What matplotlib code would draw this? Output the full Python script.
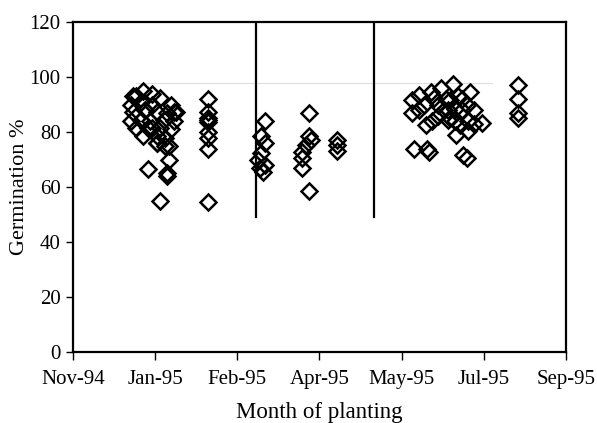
import numpy as np
import pandas as pd
import matplotlib
matplotlib.use("Agg")
import matplotlib.pyplot as plt
import matplotlib.dates as mdates

plt.rcParams['font.family'] = ['Liberation Serif', 'DejaVu Serif']
plt.rcParams['font.size'] = 15

####################################################################################
# Data: planting dates and germination %

jan_dates = ["1994-12-22", "1994-12-23", "1994-12-25", "1994-12-28", "1994-12-29",
             "1994-12-30", "1995-01-01", "1995-01-02", "1995-01-03", "1995-01-03",
             "1995-01-06", "1995-01-06", "1995-01-08", "1995-01-10", "1995-01-11",
             "1995-01-12", "1995-01-13", "1995-01-14", "1995-01-16", "1995-01-17",
             "1994-12-22", "1994-12-23", "1994-12-25", "1994-12-28", "1994-12-30",
             "1995-01-03", "1995-01-06", "1995-01-08", "1995-01-11", "1995-01-14",
             "1995-01-16", "1994-12-29", "1995-01-06", "1995-01-12", "1995-01-13",
             "1995-01-01", "1995-01-12", "1995-01-08"]
jan_germ = [90, 93, 93, 91, 95,
            88, 81.5, 84, 94, 90,
            87.3, 78.5, 92.5, 84.4, 78,
            87, 75, 90, 84, 87.3,
            84, 87.3, 81.5, 84.4, 88,
            81.5, 76, 81.5, 75, 81,
            87.3, 78.5, 76, 65, 70,
            66.5, 64, 55]

feb_dates = ["1995-02-05"] * 9
feb_germ = [92, 87.3, 85, 84.4, 83.6, 80, 77.8, 74, 54.5]

mar_dates = ["1995-03-10", "1995-03-08", "1995-03-10", "1995-03-08", "1995-03-06",
             "1995-03-10", "1995-03-07", "1995-03-09"]
mar_germ = [84, 78.5, 76, 72.5, 70, 68, 67, 65.5]

apr_dates = ["1995-04-05", "1995-04-05", "1995-04-03", "1995-04-01", "1995-04-01",
             "1995-04-01", "1995-04-05", "1995-04-06",
             "1995-04-21", "1995-04-21", "1995-04-21"]
apr_germ = [87, 78.5, 75.3, 72.8, 70.5, 67, 58.5, 77,
            77, 75.3, 73]

jun_dates = ["1995-06-04", "1995-06-04", "1995-06-05", "1995-06-08", "1995-06-11",
             "1995-06-12", "1995-06-13", "1995-06-14", "1995-06-15", "1995-06-16",
             "1995-06-17", "1995-06-19", "1995-06-21", "1995-06-23", "1995-06-24",
             "1995-06-25", "1995-06-25", "1995-06-26", "1995-06-28", "1995-06-29",
             "1995-06-29", "1995-06-30", "1995-07-01", "1995-07-02", "1995-07-03",
             "1995-07-04", "1995-07-06", "1995-07-06", "1995-07-07", "1995-07-07",
             "1995-07-08", "1995-07-10", "1995-07-10", "1995-07-15", "1995-06-08",
             "1995-06-19", "1995-06-26", "1995-07-03"]
jun_germ = [91.6, 87, 74, 93.5, 90,
            82.5, 74, 72.7, 94.5, 84,
            92.5, 90, 96, 88, 92,
            84.5, 88, 91.6, 97.5, 84,
            88.5, 79, 93, 82.5, 88,
            71.6, 70.5, 90, 84, 80.5,
            94.5, 88, 83, 83.3, 88,
            86, 85, 92]

aug_dates = ["1995-08-05"] * 4
aug_germ = [97, 92, 87, 85]

# Season dividers and reference line
divider_dates = ["1995-03-05", "1995-05-13"]
divider_low = 49
ref_dates = ["1994-12-25", "1995-07-21"]
ref_value = [98, 98]

tick_start = "1994-11-18"
tick_step = 48
n_ticks = 7

####################################################################################

fig = plt.figure(figsize=(5.97, 4.23), dpi=100)
ax = fig.add_axes([0.1223, 0.1678, 0.8257, 0.7802])

ax.plot(pd.to_datetime(ref_dates), ref_value, color='#dddddd', lw=0.8, zorder=1)

for d in divider_dates:
    ax.plot(pd.to_datetime([d, d]), [divider_low, 120], color='black', lw=1.6, zorder=2)

all_dates = jan_dates + feb_dates + mar_dates + apr_dates + jun_dates + aug_dates
all_germ = jan_germ + feb_germ + mar_germ + apr_germ + jun_germ + aug_germ

ax.plot(pd.to_datetime(all_dates), all_germ, linestyle='none', marker='D', ms=8.5,
        mfc='none', mec='black', mew=1.8, zorder=3)

ticks = pd.date_range(tick_start, periods=n_ticks, freq=f'{tick_step}D')
ax.set_xticks(ticks)
ax.xaxis.set_major_formatter(mdates.DateFormatter('%b-%y'))
ax.set_xlim(ticks[0], ticks[-1])

ax.set_ylim(0, 120)
ax.set_yticks(np.arange(0, 121, 20))

for s in ax.spines.values():
    s.set_linewidth(1.6)

ax.tick_params(axis='x', direction='out', length=6, width=1, pad=7)
ax.tick_params(axis='y', direction='out', length=5, width=1, pad=4)

ax.set_ylabel('Germination %', fontsize=16, labelpad=0)
ax.set_xlabel('Month of planting', fontsize=16.5, labelpad=9)

plt.savefig('out.png', dpi=100)
